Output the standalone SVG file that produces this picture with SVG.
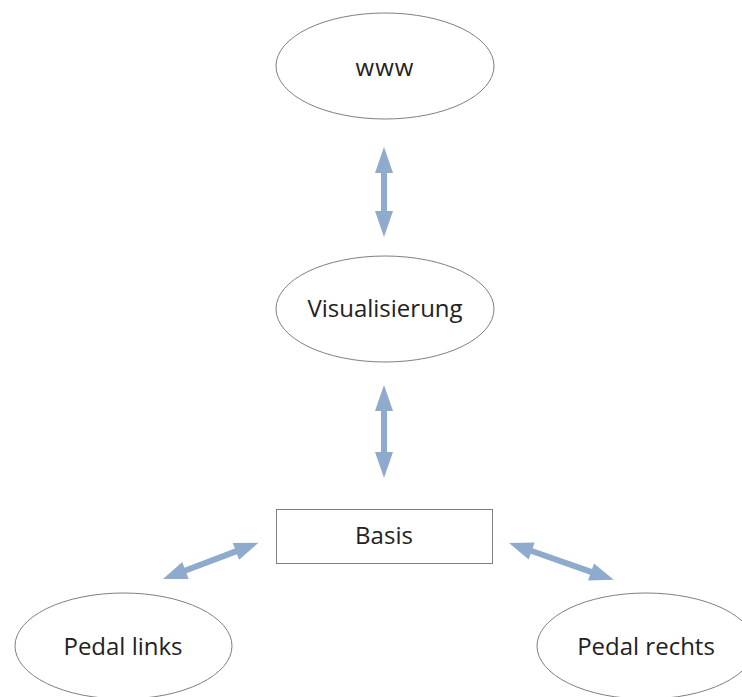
<svg xmlns="http://www.w3.org/2000/svg" width="742" height="697" viewBox="0 0 742 697">
<style>
.n{fill:#fff;stroke:#7f7f7f;stroke-width:1}
.t{font-family:"Open Sans","Liberation Sans",sans-serif;font-size:24px;fill:#222;text-anchor:middle}
.a{fill:#8eaacc;stroke:none}
</style>
<rect width="742" height="697" fill="#fff"/>
<g id="connectors">
<polygon class="a" transform="translate(384,147) rotate(90)" points="0,0 26,-9 26,-3 64,-3 64,-9 90,0 64,9 64,3 26,3 26,9"/>
<polygon class="a" transform="translate(384,385) rotate(90)" points="0,0 26,-9 26,-3 67,-3 67,-9 93,0 67,9 67,3 26,3 26,9"/>
<polygon class="a" transform="translate(163,579) rotate(-20.75)" points="0,0 24,-9 24,-3 78,-3 78,-9 102,0 78,9 78,3 24,3 24,9"/>
<polygon class="a" transform="translate(509,543) rotate(19.4)" points="0,0 24,-9 24,-3 87,-3 87,-9 111,0 87,9 87,3 24,3 24,9"/>
</g>
<g id="www">
<ellipse class="n" cx="385" cy="66" rx="109" ry="53"/>
<text class="t" x="385" y="76" letter-spacing="1">www</text>
</g>
<g id="visualisierung">
<ellipse class="n" cx="385" cy="309" rx="109" ry="53"/>
<text class="t" x="385" y="317">Visualisierung</text>
</g>
<g id="basis">
<rect class="n" x="276.5" y="509.5" width="216" height="54"/>
<text class="t" x="384" y="544">Basis</text>
</g>
<g id="pedal-links">
<ellipse class="n" cx="123.5" cy="646" rx="108.5" ry="53"/>
<text class="t" x="123" y="655">Pedal links</text>
</g>
<g id="pedal-rechts">
<ellipse class="n" cx="646" cy="646" rx="109" ry="53"/>
<text class="t" x="646" y="655">Pedal rechts</text>
</g>
</svg>
